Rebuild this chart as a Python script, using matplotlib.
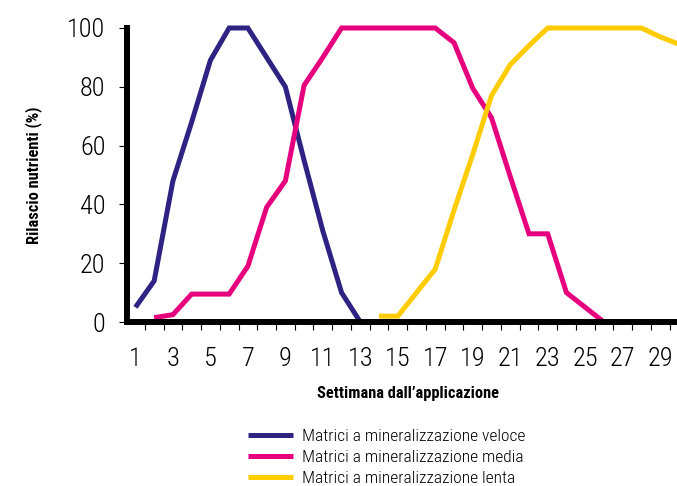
import matplotlib
matplotlib.use("Agg")
from matplotlib import pyplot as plt
from matplotlib.ticker import FixedLocator, NullFormatter

plt.rcParams['font.family'] = ['Roboto Condensed', 'DejaVu Sans']

# weekly nutrient release (%)
weeks_fast = list(range(1, 14))
fast = [5, 14, 48, 68, 89, 100, 100, 90, 80, 55, 31, 10, 0]

weeks_medium = list(range(2, 27))
medium = [1.5, 2.5, 9.5, 9.5, 9.5, 19, 39, 48, 80.5, 90, 100, 100, 100, 100, 100,
          100, 95, 79.5, 69.5, 49.5, 30, 30, 10, 5, 0]

weeks_slow = list(range(14, 31))
slow = [2, 2, 10, 18, 38, 57, 77, 87.5, 94, 100, 100, 100, 100, 100, 100, 97, 94.5]

labels = ["Matrici a mineralizzazione veloce",
          "Matrici a mineralizzazione media",
          "Matrici a mineralizzazione lenta"]
colors = ["#2e2382", "#e6007e", "#ffcc00"]

fig = plt.figure(figsize=(6.77, 4.86), dpi=100)
ax = fig.add_axes([0.1876, 0.3374, 0.8124, 0.605])

for x, y, lab, c in zip([weeks_fast, weeks_medium, weeks_slow],
                        [fast, medium, slow], labels, colors):
    ax.plot(x, y, color=c, lw=3.6, label=lab, clip_on=False,
            solid_joinstyle='miter', solid_capstyle='butt', zorder=2)

ax.set_xlim(0.55, 29.9)
ax.set_ylim(0, 100)

for s in ['top', 'right']:
    ax.spines[s].set_visible(False)
for s in ['left', 'bottom']:
    ax.spines[s].set_linewidth(4.3)
    ax.spines[s].set_zorder(3)

ax.set_yticks([0, 20, 40, 60, 80, 100])
ax.tick_params(axis='y', length=6, width=0.8, pad=9.5, labelsize=19)

ax.set_xticks(list(range(1, 30, 2)))
ax.xaxis.set_minor_locator(FixedLocator([i + 0.5 for i in range(0, 30)]))
ax.xaxis.set_minor_formatter(NullFormatter())
ax.tick_params(axis='x', which='major', length=0, pad=18, labelsize=19)
ax.tick_params(axis='x', which='minor', length=6, width=0.8)
for t in ax.get_xticklabels() + ax.get_yticklabels():
    t.set_fontweight('light')

ax.set_xlabel("Settimana dall’applicazione", fontsize=11.8, fontweight='bold')
ax.set_ylabel("Rilascio nutrienti (%)", fontsize=11.8, fontweight='bold')
ax.xaxis.label.set_va('center')
ax.yaxis.label.set_va('center')
ax.xaxis.set_label_coords(0.51, -0.2415)
ax.yaxis.set_label_coords(-0.17, 0.5)

leg = fig.legend(loc='upper left', bbox_to_anchor=(0.366, 0.118), frameon=False,
                 prop={'size': 12.5, 'weight': 'light'}, handlelength=2.6,
                 handletextpad=0.52, labelspacing=0.34, borderpad=0, borderaxespad=0)

fig.savefig("out.png", dpi=100)
